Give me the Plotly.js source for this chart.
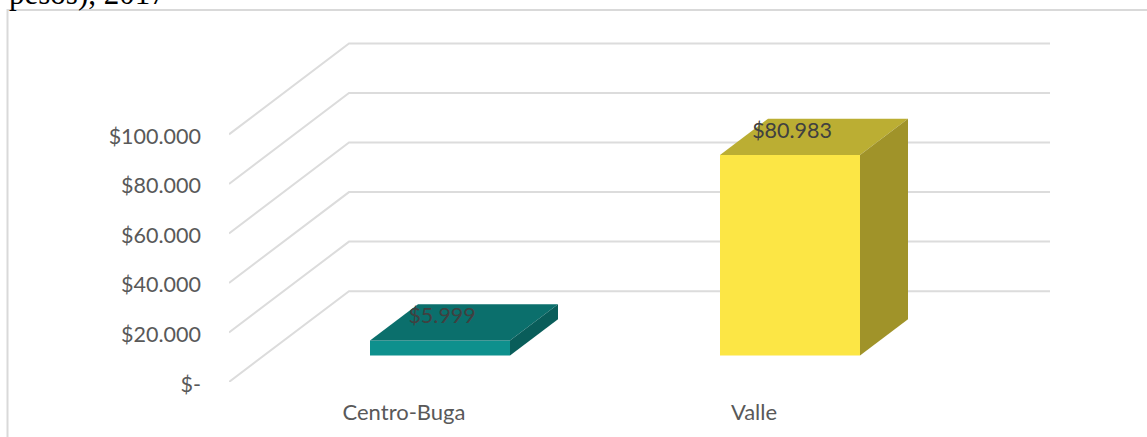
<!DOCTYPE html>
<html><head><meta charset="utf-8">
<script src="https://cdn.plot.ly/plotly-3.0.1.min.js"></script>
<style>html,body{margin:0;padding:0;background:#fff;overflow:hidden}#chart{width:1147px;height:437px}</style>
</head><body><div id="chart"></div>
<script>
const categories = ["Centro-Buga", "Valle"];
const values = [5999, 80983];
const valueLabels = ["$5.999", "$80.983"];
const tickValues = [0, 20000, 40000, 60000, 80000, 100000];
const tickLabels = ["$-", "$20.000", "$40.000", "$60.000", "$80.000", "$100.000"];
const categoryPositions = [0.5, 1.5];
const frontColors = ["#0e908d", "#fce645"];
const topColors = ["#0b6f6c", "#bbae33"];
const sideColors = ["#095d5a", "#a09329"];

// Oblique projection, in axis units
const PX_X = 1 / 350, PX_Y = 100000 / 248;
const wallDX = 120 * PX_X, wallDY = 91 * PX_Y;
const barW = 140 * PX_X;
const barOffX = 36 * PX_X, barOffY = 26.6 * PX_Y;
const depthX = 48 * PX_X, depthY = 36.3 * PX_Y;
const xMax = 821 * PX_X, yMax = 342.5 * PX_Y;

const W = 1147, H = 437, L = 229, T = 40, B = 437 - 382.5, R = 1147 - 1050;
const pw = W - L - R, ph = H - T - B;
const px = x => (x - L) / pw, py = y => (H - B - y) / ph;

const shapes = [];
tickValues.forEach(t => {
  shapes.push({type: "path", layer: "below", xref: "x", yref: "y",
    path: `M0,${t} L${wallDX},${t + wallDY} L${xMax},${t + wallDY}`,
    line: {color: "#dcdcdc", width: 2}});
});
shapes.push({type: "path", layer: "below", xref: "paper", yref: "paper",
  path: `M${px(7.5)},${py(445)} L${px(7.5)},${py(10)} L${px(1150)},${py(10)}`,
  line: {color: "#d9d9d9", width: 2}});

const traces = [];
const lefts = categoryPositions.map(c => c + barOffX - barW / 2);
traces.push({type: "bar", x: categoryPositions.map(c => c + barOffX), y: values,
  base: values.map(() => barOffY), width: barW,
  marker: {color: frontColors, line: {width: 0}}, hoverinfo: "skip", showlegend: false});
values.forEach((v, i) => {
  const x0 = lefts[i], x1 = x0 + barW, y0 = barOffY, y1 = barOffY + v;
  traces.push({type: "scatter", mode: "lines", fill: "toself", fillcolor: topColors[i],
    line: {width: 0, color: topColors[i]}, hoverinfo: "skip", showlegend: false,
    x: [x0, x0 + depthX, x1 + depthX, x1, x0], y: [y1, y1 + depthY, y1 + depthY, y1, y1]});
  traces.push({type: "scatter", mode: "lines", fill: "toself", fillcolor: sideColors[i],
    line: {width: 0, color: sideColors[i]}, hoverinfo: "skip", showlegend: false,
    x: [x1, x1 + depthX, x1 + depthX, x1, x1], y: [y0, y0 + depthY, y1 + depthY, y1, y0]});
});
traces.push({type: "scatter", mode: "text", showlegend: false, hoverinfo: "skip",
  x: categoryPositions.map(c => c + barOffX + 0.006),
  y: values.map(v => v + barOffY + 22.5 * PX_Y),
  text: valueLabels, textposition: "middle center",
  textfont: {family: "Lato, Carlito, sans-serif", size: 21.5, color: "#404040"}});

const layout = {
  width: W, height: H, margin: {l: L, r: R, t: T, b: B, pad: 0},
  paper_bgcolor: "#fff", plot_bgcolor: "rgba(0,0,0,0)", showlegend: false,
  shapes,
  xaxis: {type: "linear", range: [0, xMax], tickmode: "array", tickvals: categoryPositions,
    ticktext: categories, showgrid: false, zeroline: false, showline: false, ticks: "",
    ticklabelstandoff: 15, tickfont: {family: "Lato, Carlito, sans-serif", size: 22, color: "#595959"}},
  yaxis: {type: "linear", range: [0, yMax], tickmode: "array", tickvals: tickValues,
    ticktext: tickLabels, showgrid: false, zeroline: false, showline: false, ticks: "",
    ticklabelstandoff: 27, ticklabelshift: 2, tickfont: {family: "Lato, Carlito, sans-serif", size: 21.5, color: "#595959"}},
  annotations: [{text: "pesos), 2017", xref: "paper", yref: "paper", x: px(7), y: py(-26),
    xanchor: "left", yanchor: "top", showarrow: false, align: "left",
    font: {family: "Liberation Serif, serif", size: 31, color: "#000"}}]
};
Plotly.newPlot("chart", traces, layout, {displayModeBar: false, staticPlot: true});
</script></body></html>
